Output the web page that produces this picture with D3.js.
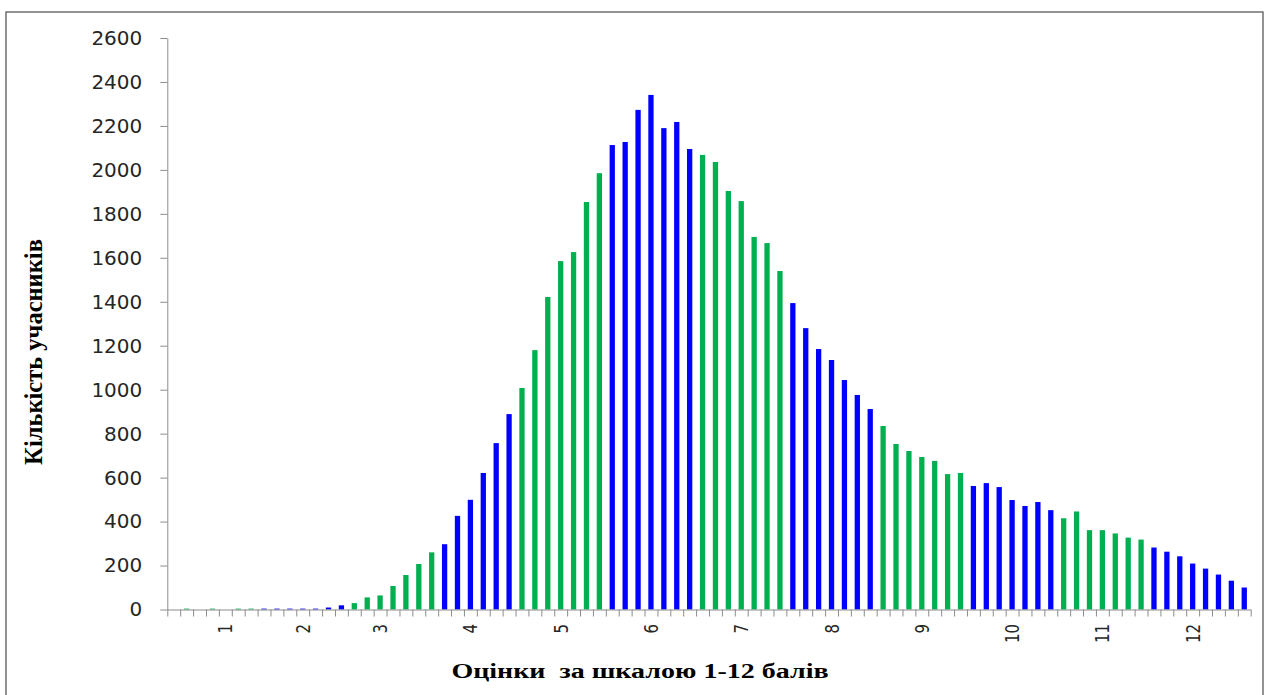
<!DOCTYPE html>
<html><head><meta charset="utf-8">
<script src="https://cdn.jsdelivr.net/npm/d3@7/dist/d3.min.js"></script>
<style>body{margin:0;background:#fff}svg{display:block}</style>
</head><body>
<svg id="chart" width="1270" height="695"></svg>
<script>
// ---- data ----
const values = [
  0, 4, 0, 4, 0, 4, 4,
  4, 4, 4, 4, 4, 9, 19,
  29, 55, 64, 107, 157, 207, 260,
  297, 426, 499, 621, 757, 889,
  1008, 1180, 1422, 1585, 1626, 1854, 1985,
  2113, 2127, 2273, 2341, 2190, 2218, 2095,
  2068, 2036, 1904, 1858, 1695, 1667, 1540,
  1394, 1280, 1185, 1135, 1044, 976, 912,
  835, 753, 721, 694, 676, 616, 621,
  562, 575, 557, 498, 471, 489, 452,
  415, 446, 361, 361, 346, 327, 318,
  282, 263, 242, 209, 186, 159, 131, 100
];
const groupSizes = [7, 7, 7, 6, 7, 7, 7, 7, 7, 7, 7, 8];
const groupColors = ["#00B050", "#0000FF"];
const tickLabels = ["1","2","3","4","5","6","7","8","9","10","11","12"];
const tickLabelIndex = [4, 10, 16, 23, 30, 37, 44, 51, 58, 65, 72, 79];
const yTicks = [0,200,400,600,800,1000,1200,1400,1600,1800,2000,2200,2400,2600];
const xTitle = "Оцінки  за шкалою 1-12 балів";
const yTitle = "Кількість учасників";

// colour per bar from grade groups
const barColor = [];
groupSizes.forEach((n, g) => { for (let k = 0; k < n; k++) barColor.push(groupColors[g % 2]); });

const svg = d3.select("#chart");
const plotLeft = 167.3, plotRight = 1250.7, plotTop = 38, plotBottom = 609.5;

// frame
svg.append("rect").attr("x", 6).attr("y", 12).attr("width", 1257).attr("height", 700)
  .attr("fill", "none").attr("stroke", "#595959").attr("stroke-width", 1.3);

const x = d3.scaleBand().domain(d3.range(values.length)).range([plotLeft, plotRight])
  .paddingInner(0.59).paddingOuter(0.295);
const xEdge = d3.scaleLinear().domain([0, values.length]).range([plotLeft, plotRight]);
const y = d3.scaleLinear().domain([0, 2600]).range([plotBottom, plotTop]);

// bars
svg.append("g").selectAll("rect").data(values).join("rect")
  .attr("x", (d, i) => x(i))
  .attr("width", x.bandwidth())
  .attr("y", d => y(d))
  .attr("height", d => y(0) - y(d))
  .attr("fill", (d, i) => barColor[i]);

// y axis
const yAxis = svg.append("g").attr("transform", `translate(${plotLeft},0)`)
  .call(d3.axisLeft(y).tickValues(yTicks).tickFormat(d3.format("d")).tickSize(7).tickPadding(18).tickSizeOuter(0));
yAxis.select(".domain").attr("stroke", "#8c8c8c");
yAxis.selectAll(".tick line").attr("stroke", "#8c8c8c");
yAxis.selectAll(".tick text").attr("fill", "#262626")
  .style("font-family", "'DejaVu Sans', sans-serif").style("font-size", "20px");

// x axis
const xAxis = svg.append("g").attr("transform", `translate(0,${plotBottom})`)
  .call(d3.axisBottom(xEdge).tickValues(d3.range(values.length + 1)).tickFormat("").tickSize(7).tickSizeOuter(0));
xAxis.select(".domain").attr("stroke", "#8c8c8c");
xAxis.selectAll(".tick line").attr("stroke", "#8c8c8c");

// x labels (rotated, reading bottom to top)
const xl = svg.append("g").selectAll("g").data(tickLabels).join("g")
  .attr("transform", (d, i) => `translate(${x(tickLabelIndex[i]) + x.bandwidth() / 2},624) scale(1.3,1)`);
xl.append("text")
  .attr("transform", "rotate(-90)")
  .attr("text-anchor", "end").attr("dy", "0.36em")
  .attr("fill", "#262626")
  .style("font-family", "'DejaVu Sans', sans-serif").style("font-size", "15px")
  .text(d => d);

// titles
svg.append("g").attr("transform", "translate(640,671) scale(1.4,1)")
  .append("text")
  .attr("text-anchor", "middle").attr("dy", "0.35em")
  .style("font-family", "'Liberation Serif', serif").style("font-weight", "bold").style("font-size", "20px")
  .style("white-space", "pre")
  .text(xTitle);
svg.append("g").attr("transform", "translate(33,352)")
  .append("text").attr("transform", "rotate(-90)")
  .attr("text-anchor", "middle").attr("dy", "0.35em")
  .style("font-family", "'Liberation Serif', serif").style("font-weight", "bold").style("font-size", "24.5px")
  .text(yTitle);
</script>
</body></html>
